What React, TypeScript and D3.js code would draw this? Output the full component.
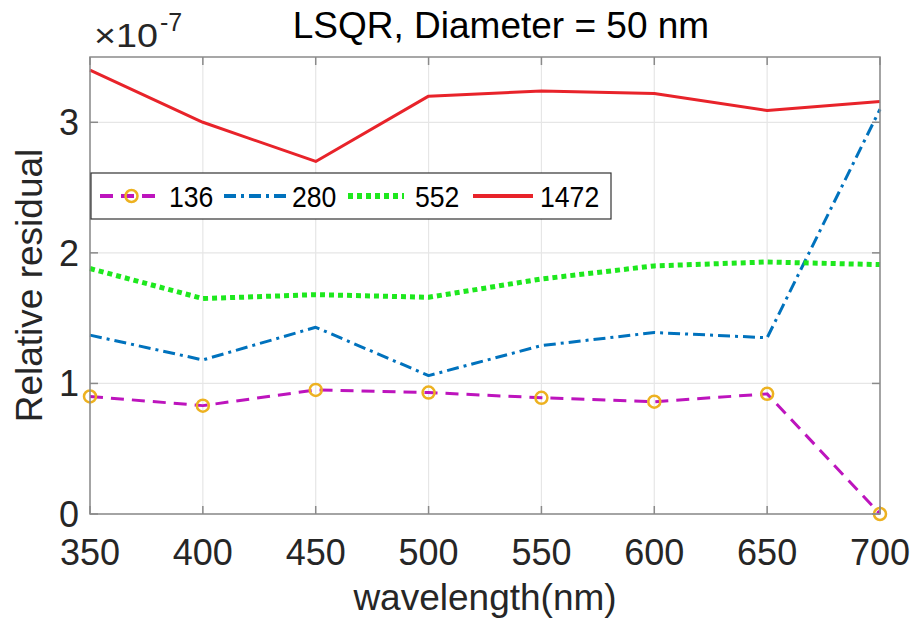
import React from "react";
import * as d3 from "d3";

const wavelengths = [350, 400, 450, 500, 550, 600, 650, 700];
const s136 = [0.9, 0.83, 0.95, 0.93, 0.89, 0.86, 0.92, 0.0];
const s280 = [1.37, 1.18, 1.43, 1.06, 1.29, 1.39, 1.35, 3.1];
const s552 = [1.88, 1.65, 1.68, 1.66, 1.8, 1.9, 1.93, 1.91];
const s1472 = [3.4, 3.0, 2.7, 3.2, 3.24, 3.22, 3.09, 3.16];
const seriesNames = ["136", "280", "552", "1472"];
const xTicks = [350, 400, 450, 500, 550, 600, 650, 700];
const yTicks = [0, 1, 2, 3];

const W = 914;
const H = 623;
const M = { left: 90, right: 880, top: 57, bottom: 514 };
const FONT = "'Liberation Sans', Arial, Helvetica, sans-serif";

const styles = [
  { color: "#BD14BD", width: 3, dash: "13,8", marker: true },
  { color: "#0072BD", width: 3, dash: "12,5,3,5", marker: false },
  { color: "#1EE81E", width: 5, dash: "5,4", marker: false },
  { color: "#E8232A", width: 3, dash: null as string | null, marker: false },
];

export default function App() {
  const x = d3.scaleLinear().domain([350, 700]).range([M.left, M.right]);
  const y = d3.scaleLinear().domain([0, 3.5]).range([M.bottom, M.top]);
  const allSeries = [s136, s280, s552, s1472];
  const line = d3
    .line<number>()
    .x((_, i) => x(wavelengths[i]))
    .y((d) => y(d));

  const legend = { x0: 91, y0: 173, x1: 611, y1: 219 };
  const legendItems = [
    { l0: 100, l1: 163, tx: 169 },
    { l0: 224, l1: 288, tx: 292 },
    { l0: 348, l1: 404, tx: 415 },
    { l0: 473, l1: 533, tx: 540 },
  ];
  const ly = (legend.y0 + legend.y1) / 2;

  return (
    <svg
      width={W}
      height={H}
      style={{ position: "absolute", left: 0, top: 0, background: "#fff" }}
      fontFamily={FONT}
    >
      {/* grid */}
      {xTicks.map((t) => (
        <line key={"gx" + t} x1={x(t)} x2={x(t)} y1={M.top} y2={M.bottom} stroke="#e6e6e6" strokeWidth={1.2} />
      ))}
      {yTicks.map((t) => (
        <line key={"gy" + t} x1={M.left} x2={M.right} y1={y(t)} y2={y(t)} stroke="#e6e6e6" strokeWidth={1.2} />
      ))}
      {/* series */}
      {allSeries.map((s, k) => (
        <path
          key={"s" + k}
          d={line(s) || ""}
          fill="none"
          stroke={styles[k].color}
          strokeWidth={styles[k].width}
          strokeDasharray={styles[k].dash || undefined}
          strokeLinejoin="round"
        />
      ))}
      {s136.map((v, i) => (
        <circle key={"m" + i} cx={x(wavelengths[i])} cy={y(v)} r={6} fill="none" stroke="#EDB120" strokeWidth={2.5} />
      ))}
      {/* axes box */}
      <rect x={M.left} y={M.top} width={M.right - M.left} height={M.bottom - M.top} fill="none" stroke="#8a8a8a" strokeWidth={1.5} />
      {xTicks.map((t) => (
        <g key={"tx" + t}>
          <line x1={x(t)} x2={x(t)} y1={M.bottom} y2={M.bottom - 8} stroke="#8a8a8a" strokeWidth={1.5} />
          <line x1={x(t)} x2={x(t)} y1={M.top} y2={M.top + 8} stroke="#8a8a8a" strokeWidth={1.5} />
          <text x={x(t)} y={565} fontSize={36} textAnchor="middle" fill="#262626">
            {t}
          </text>
        </g>
      ))}
      {yTicks.map((t) => (
        <g key={"ty" + t}>
          <line x1={M.left} x2={M.left + 8} y1={y(t)} y2={y(t)} stroke="#8a8a8a" strokeWidth={1.5} />
          <line x1={M.right} x2={M.right - 8} y1={y(t)} y2={y(t)} stroke="#8a8a8a" strokeWidth={1.5} />
          <text x={79} y={y(t) + 13} fontSize={36} textAnchor="end" fill="#262626">
            {t}
          </text>
        </g>
      ))}
      {/* exponent */}
      <text x={94} y={47} fontSize={34} fill="#262626" textLength={64} lengthAdjust="spacingAndGlyphs">
        ×10
      </text>
      <text x={160} y={31} fontSize={25} fill="#262626">
        -7
      </text>
      {/* title */}
      <text x={501} y={38} fontSize={37} textAnchor="middle" fill="#000">
        LSQR, Diameter = 50 nm
      </text>
      {/* axis labels */}
      <text x={485} y={610} fontSize={37} textAnchor="middle" fill="#262626">
        wavelength(nm)
      </text>
      <text transform={`translate(42,${(M.top + M.bottom) / 2}) rotate(-90)`} fontSize={37} textAnchor="middle" fill="#262626">
        Relative residual
      </text>
      {/* legend */}
      <rect x={legend.x0} y={legend.y0} width={legend.x1 - legend.x0} height={legend.y1 - legend.y0} fill="#fff" stroke="#333" strokeWidth={1.2} />
      {legendItems.map((it, k) => (
        <g key={"lg" + k}>
          <line
            x1={it.l0}
            x2={it.l1}
            y1={ly}
            y2={ly}
            stroke={styles[k].color}
            strokeWidth={styles[k].width + 1}
            strokeDasharray={styles[k].dash || undefined}
          />
          {styles[k].marker && (
            <circle cx={(it.l0 + it.l1) / 2} cy={ly} r={6} fill="none" stroke="#EDB120" strokeWidth={2.5} />
          )}
          <text
            x={it.tx}
            y={ly + 11}
            fontSize={30}
            fill="#000"
            textLength={seriesNames[k].length * 14.8}
            lengthAdjust="spacingAndGlyphs"
          >
            {seriesNames[k]}
          </text>
        </g>
      ))}
    </svg>
  );
}
